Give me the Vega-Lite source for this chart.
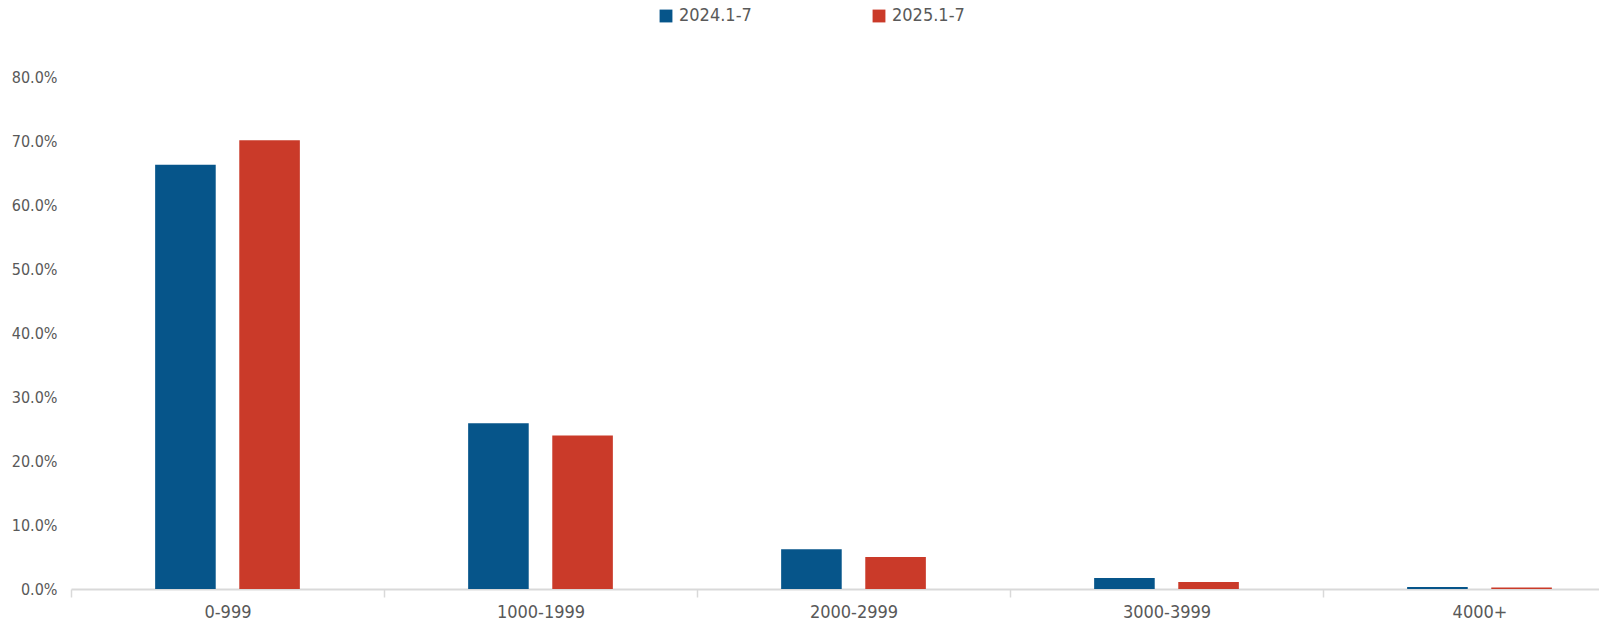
{
  "$schema": "https://vega.github.io/schema/vega-lite/v6.json",
  "width": 1528,
  "height": 512,
  "autosize": {"type": "none"},
  "padding": {"left": 71, "top": 77, "right": 0, "bottom": 41},
  "background": "#ffffff",
  "config": {
    "view": {"stroke": null},
    "font": "DejaVu Sans Condensed, sans-serif"
  },
  "data": {
    "values": [
      {"range": "0-999", "period": "2024.1-7", "share": 0.663},
      {"range": "0-999", "period": "2025.1-7", "share": 0.701},
      {"range": "1000-1999", "period": "2024.1-7", "share": 0.259},
      {"range": "1000-1999", "period": "2025.1-7", "share": 0.240},
      {"range": "2000-2999", "period": "2024.1-7", "share": 0.062},
      {"range": "2000-2999", "period": "2025.1-7", "share": 0.050},
      {"range": "3000-3999", "period": "2024.1-7", "share": 0.017},
      {"range": "3000-3999", "period": "2025.1-7", "share": 0.011},
      {"range": "4000+", "period": "2024.1-7", "share": 0.003},
      {"range": "4000+", "period": "2025.1-7", "share": 0.0025}
    ]
  },
  "mark": {"type": "bar"},
  "encoding": {
    "x": {
      "field": "range",
      "type": "nominal",
      "sort": ["0-999", "1000-1999", "2000-2999", "3000-3999", "4000+"],
      "scale": {"range": [0, 1565], "paddingInner": 0, "paddingOuter": 0},
      "axis": {
        "title": null,
        "labelAngle": 0,
        "labelFontSize": 18,
        "labelColor": "#595959",
        "labelPadding": 6,
        "tickBand": "extent",
        "tickColor": "#d9d9d9",
        "tickSize": 8,
        "tickWidth": 1.5,
        "domainColor": "#d9d9d9",
        "domainWidth": 2
      }
    },
    "xOffset": {
      "field": "period",
      "type": "nominal",
      "scale": {"range": [0, 313], "paddingInner": 0.28, "paddingOuter": 1.09}
    },
    "y": {
      "field": "share",
      "type": "quantitative",
      "scale": {"domain": [0, 0.8], "nice": false},
      "axis": {
        "title": null,
        "format": ".1%",
        "values": [0, 0.1, 0.2, 0.3, 0.4, 0.5, 0.6, 0.7, 0.8],
        "labelFontSize": 16,
        "labelColor": "#595959",
        "labelPadding": 14,
        "ticks": false,
        "domain": false,
        "grid": false
      }
    },
    "color": {
      "field": "period",
      "type": "nominal",
      "scale": {"domain": ["2024.1-7", "2025.1-7"], "range": ["#06558A", "#CA3A29"]},
      "legend": {
        "title": null,
        "orient": "none",
        "direction": "horizontal",
        "legendX": 586,
        "legendY": -70,
        "symbolType": "square",
        "symbolSize": 165,
        "symbolStrokeWidth": 0,
        "labelFontSize": 18,
        "labelColor": "#595959",
        "labelOffset": 4,
        "columnPadding": 118
      }
    }
  }
}
